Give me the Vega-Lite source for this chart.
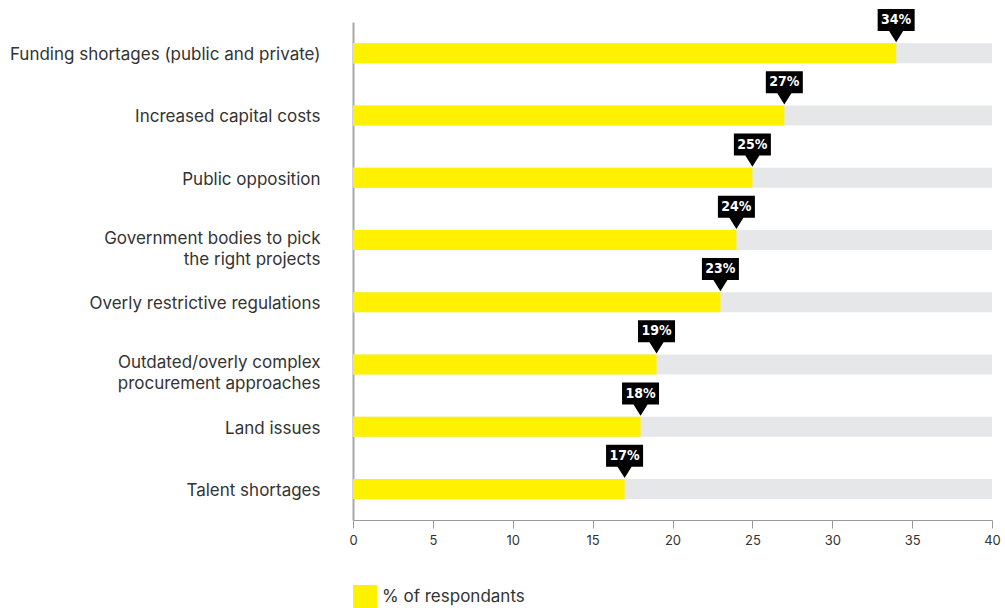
{
  "$schema": "https://vega.github.io/schema/vega-lite/v6.json",
  "autosize": "none",
  "width": 639,
  "height": 520,
  "padding": {"left": 353, "top": 0, "right": 13, "bottom": 88},
  "background": "white",
  "config": {"view": {"stroke": null}, "font": "Inter"},
  "data": {
    "values": [
      {"label": "Funding shortages (public and private)", "value": 34, "pct": "34%"},
      {"label": "Increased capital costs", "value": 27, "pct": "27%"},
      {"label": "Public opposition", "value": 25, "pct": "25%"},
      {"label": "Government bodies to pick|the right projects", "value": 24, "pct": "24%"},
      {"label": "Overly restrictive regulations", "value": 23, "pct": "23%"},
      {"label": "Outdated/overly complex|procurement approaches", "value": 19, "pct": "19%"},
      {"label": "Land issues", "value": 18, "pct": "18%"},
      {"label": "Talent shortages", "value": 17, "pct": "17%"}
    ]
  },
  "layer": [
    {
      "mark": {"type": "bar", "size": 20, "color": "#e6e7e8"},
      "encoding": {
        "y": {
          "field": "label",
          "type": "nominal",
          "sort": null,
          "scale": {"range": [22, 520], "paddingInner": 0, "paddingOuter": 0},
          "axis": {
            "title": null,
            "domain": true,
            "domainColor": "#a8a8a8",
            "domainWidth": 2,
            "ticks": false,
            "labelPadding": 33,
            "labelFontSize": 17,
            "labelFont": "Inter",
            "labelColor": "#333333",
            "labelLimit": 500,
            "labelLineHeight": 21,
            "labelExpr": "split(datum.value, '|')",
            "labelOffset": {"condition": {"test": "indexof(datum.value, '|') >= 0", "value": -1}, "value": 2}
          }
        },
        "x": {"datum": 0, "type": "quantitative"},
        "x2": {"datum": 40}
      }
    },
    {
      "mark": {"type": "bar", "size": 20},
      "encoding": {
        "y": {"field": "label", "type": "nominal", "sort": null},
        "x": {
          "field": "value",
          "type": "quantitative",
          "scale": {"domain": [0, 40], "nice": false, "zero": true},
          "axis": {
            "title": null,
            "grid": false,
            "values": [0, 5, 10, 15, 20, 25, 30, 35, 40],
            "domainColor": "#9a9a9a",
            "tickColor": "#9a9a9a",
            "tickSize": 8,
            "labelFlush": false,
            "labelFontSize": 13,
            "labelFont": "Inter",
            "labelColor": "#333333",
            "labelPadding": 6
          }
        },
        "color": {
          "datum": "% of respondants",
          "type": "nominal",
          "scale": {"range": ["#fff100"]},
          "legend": {
            "title": null,
            "orient": "none",
            "legendX": 0,
            "legendY": 585,
            "padding": 0,
            "symbolType": "square",
            "symbolSize": 576,
            "symbolStrokeWidth": 0,
            "labelFontSize": 17,
            "labelFont": "Inter",
            "labelColor": "#333333",
            "labelOffset": 5
          }
        }
      }
    },
    {
      "mark": {
        "type": "point",
        "filled": true,
        "color": "#000000",
        "opacity": 1,
        "size": 1369,
        "shape": "M-1,-0.892L1,-0.892L1,0.297L0.38,0.297L0,0.892L-0.38,0.297L-1,0.297Z",
        "yOffset": -27.5
      },
      "encoding": {
        "y": {"field": "label", "type": "nominal", "sort": null},
        "x": {"field": "value", "type": "quantitative"}
      }
    },
    {
      "mark": {
        "type": "text",
        "color": "#ffffff",
        "font": "'Liberation Sans Narrow', 'DejaVu Sans Condensed', 'Roboto Condensed', Roboto",
        "fontWeight": "bold",
        "fontSize": 14,
        "baseline": "middle",
        "align": "center",
        "dy": -33
      },
      "encoding": {
        "y": {"field": "label", "type": "nominal", "sort": null},
        "x": {"field": "value", "type": "quantitative"},
        "text": {"field": "pct"}
      }
    }
  ]
}
